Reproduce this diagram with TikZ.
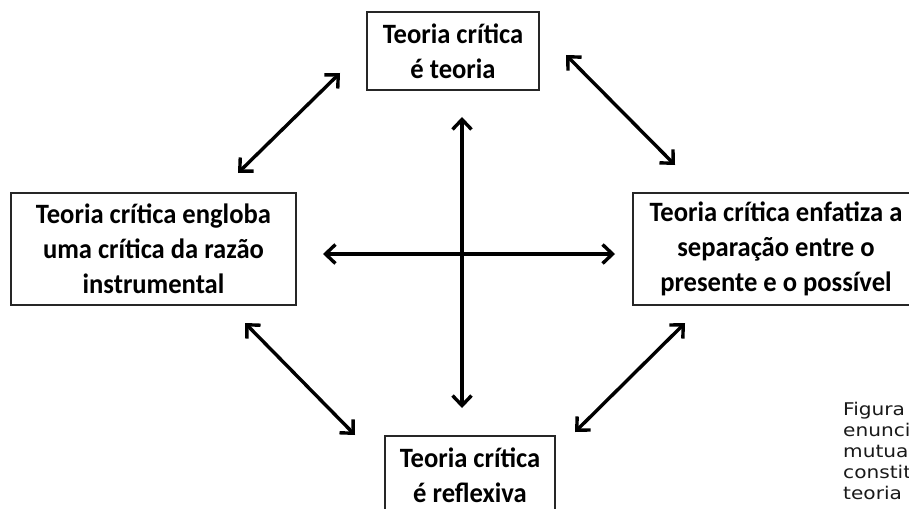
\documentclass[tikz,border=0pt]{standalone}
\usepackage{fontspec}
\setmainfont{Carlito}[FakeStretch=0.95]
\newfontfamily\capfont{DejaVu Sans}[FakeStretch=1.15]
\usetikzlibrary{arrows.meta}
\begin{document}
\begin{tikzpicture}[x=1pt,y=-1pt,
  box/.style={draw=black!85,line width=1.3pt,fill=white,inner sep=0pt,align=center,
    font=\bfseries\fontsize{28}{35}\selectfont},
  dbl/.style={line width=3.4pt,{Straight Barb[length=10pt,width=19pt,line width=3.4pt]}-{Straight Barb[length=10pt,width=19pt,line width=3.4pt]}}]
\useasboundingbox (0,0) rectangle (909,508);
\clip (0,0) rectangle (909,508);
\node[box,minimum width=172pt,minimum height=78pt] (top) at (453,51) {Teoria crítica\\é teoria};
\node[box,minimum width=285pt,minimum height=112pt] (left) at (153.5,249) {Teoria crítica engloba\\uma crítica da razão\\instrumental};
\node[box,minimum width=286pt,minimum height=112pt] (right) at (776,249) {Teoria crítica enfatiza a\\separação entre o\\presente e o possível};
\node[box,minimum width=170pt,minimum height=78pt] (bot) at (470,475) {Teoria crítica\\é reflexiva};
\coordinate (v1) at (462,117);
\coordinate (v2) at (462,408);
\coordinate (h1) at (323,254);
\coordinate (h2) at (615,254);
\coordinate (a1) at (238,173);
\coordinate (a2) at (340,73);
\coordinate (b1) at (566,55);
\coordinate (b2) at (675,165);
\coordinate (c1) at (245,323);
\coordinate (c2) at (355,435);
\coordinate (d1) at (685,323);
\coordinate (d2) at (575,432);
\draw[dbl] (v1) -- (v2);
\draw[dbl] (h1) -- (h2);
\draw[dbl] (a1) -- (a2);
\draw[dbl] (b1) -- (b2);
\draw[dbl] (c1) -- (c2);
\draw[dbl] (d1) -- (d2);
\node[anchor=north west,inner sep=0pt,align=left,text=black!90,
  font=\capfont\fontsize{17.5}{21}\selectfont] (cap) at (843,402)
  {Figura\\enunci\\mutua\\constit\\teoria};
\end{tikzpicture}
\end{document}
